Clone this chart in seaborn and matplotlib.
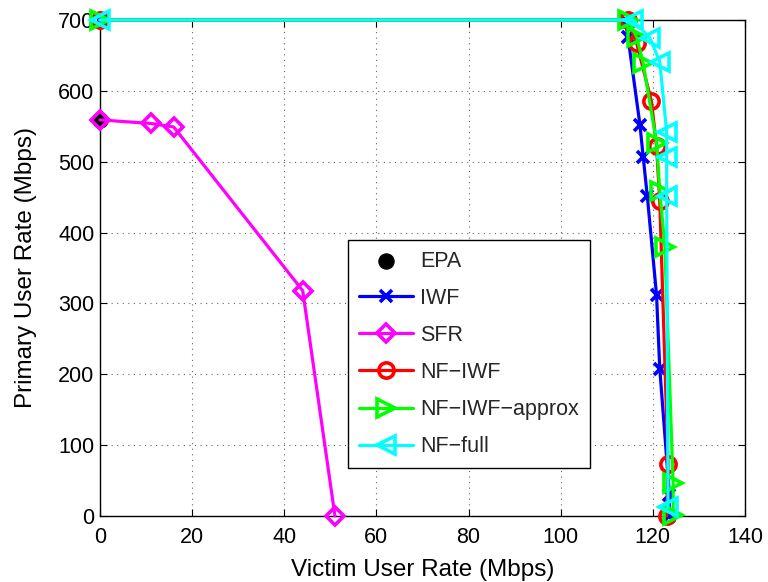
import numpy as np
import pandas as pd
import matplotlib
matplotlib.use("Agg")
import matplotlib.pyplot as plt
import seaborn as sns

# Data
epa_x = [0.0]
epa_y = [559]

iwf_x = [0, 114, 114.6, 117.2, 117.9, 118.8, 120.8, 121.5, 123.6, 123.5]
iwf_y = [700, 700, 676, 552, 507, 451, 312, 208, 30, 0]

sfr_x = [0, 11, 16, 44, 51]
sfr_y = [559, 554, 549, 318, 0]

nfiwf_x = [0, 114.5, 116.5, 119.7, 120.8, 121.5, 123.3, 123.0]
nfiwf_y = [700, 700, 667, 585, 522, 444, 73, 0]

nfapx_x = [0, 114.6, 116.5, 117.9, 120.8, 121.5, 122.6, 124.4, 124.4]
nfapx_y = [700, 700, 676, 639, 527, 459, 380, 46, 1]

nffull_x = [0, 115.7, 119.4, 121.5, 123.0, 123.0, 123.0, 123.3]
nffull_y = [700, 700, 674, 641, 542, 507, 451, 12]

sns.set_theme(style="white")
plt.rcParams['font.family'] = ['Liberation Sans', 'DejaVu Sans']

fig = plt.figure(figsize=(7.68, 5.82), dpi=100)
ax = fig.add_axes([100 / 768, 66 / 582, 645 / 768, 496 / 582])

lw = 2.3

sns.scatterplot(x=epa_x, y=epa_y, ax=ax, color='black', s=120, marker='o',
                edgecolor='black', label='EPA', zorder=3, clip_on=False)

series = [
    (iwf_x, iwf_y, 'IWF', '#0000ff', 'x', 8),
    (sfr_x, sfr_y, 'SFR', '#ff00ff', 'D', 9.5),
    (nfiwf_x, nfiwf_y, 'NF\u2212IWF', '#ff0000', 'o', 11),
    (nfapx_x, nfapx_y, 'NF\u2212IWF\u2212approx', '#00ff00', '>', 13),
    (nffull_x, nffull_y, 'NF\u2212full', '#00ffff', '<', 13),
]
for i, (xs, ys, lab, col, mk, msz) in enumerate(series):
    df = pd.DataFrame({'x': xs, 'y': ys})
    sns.lineplot(data=df, x='x', y='y', ax=ax, sort=False, estimator=None,
                 color=col, lw=lw, marker=mk, markersize=msz,
                 mfc='none', mec=col, mew=2.6, label=lab,
                 clip_on=False, zorder=4 + i)

ax.set_xlim(0, 140)
ax.set_ylim(0, 700)
ax.set_xticks(np.arange(0, 141, 20))
ax.set_yticks(np.arange(0, 701, 100))
ax.grid(True, linestyle=(0, (1, 4)), color='#666666', linewidth=0.8)
ax.set_axisbelow(True)
for sp in ax.spines.values():
    sp.set_color('black')
    sp.set_linewidth(1.0)
    sp.set_zorder(2)
ax.tick_params(direction='in', length=5, width=0.8, labelsize=15.5, colors='black',
               top=True, right=True, bottom=True, left=True)
ax.tick_params(axis='x', pad=8)
ax.tick_params(axis='y', pad=4)
ax.set_xlabel('Victim User Rate (Mbps)', fontsize=17.5, color='black', labelpad=8)
ax.set_ylabel('Primary User Rate (Mbps)', fontsize=17.5, color='black', labelpad=15)

leg = ax.legend(loc='lower left', bbox_to_anchor=(248 / 645, 48 / 496), fontsize=15.5,
                frameon=True, fancybox=False, edgecolor='black', framealpha=1,
                handlelength=2.5, labelspacing=0.75, borderpad=0.5,
                handletextpad=0.35, borderaxespad=0)
leg.get_frame().set_linewidth(1.0)
leg.set_zorder(20)

fig.savefig('out.png', dpi=100)
